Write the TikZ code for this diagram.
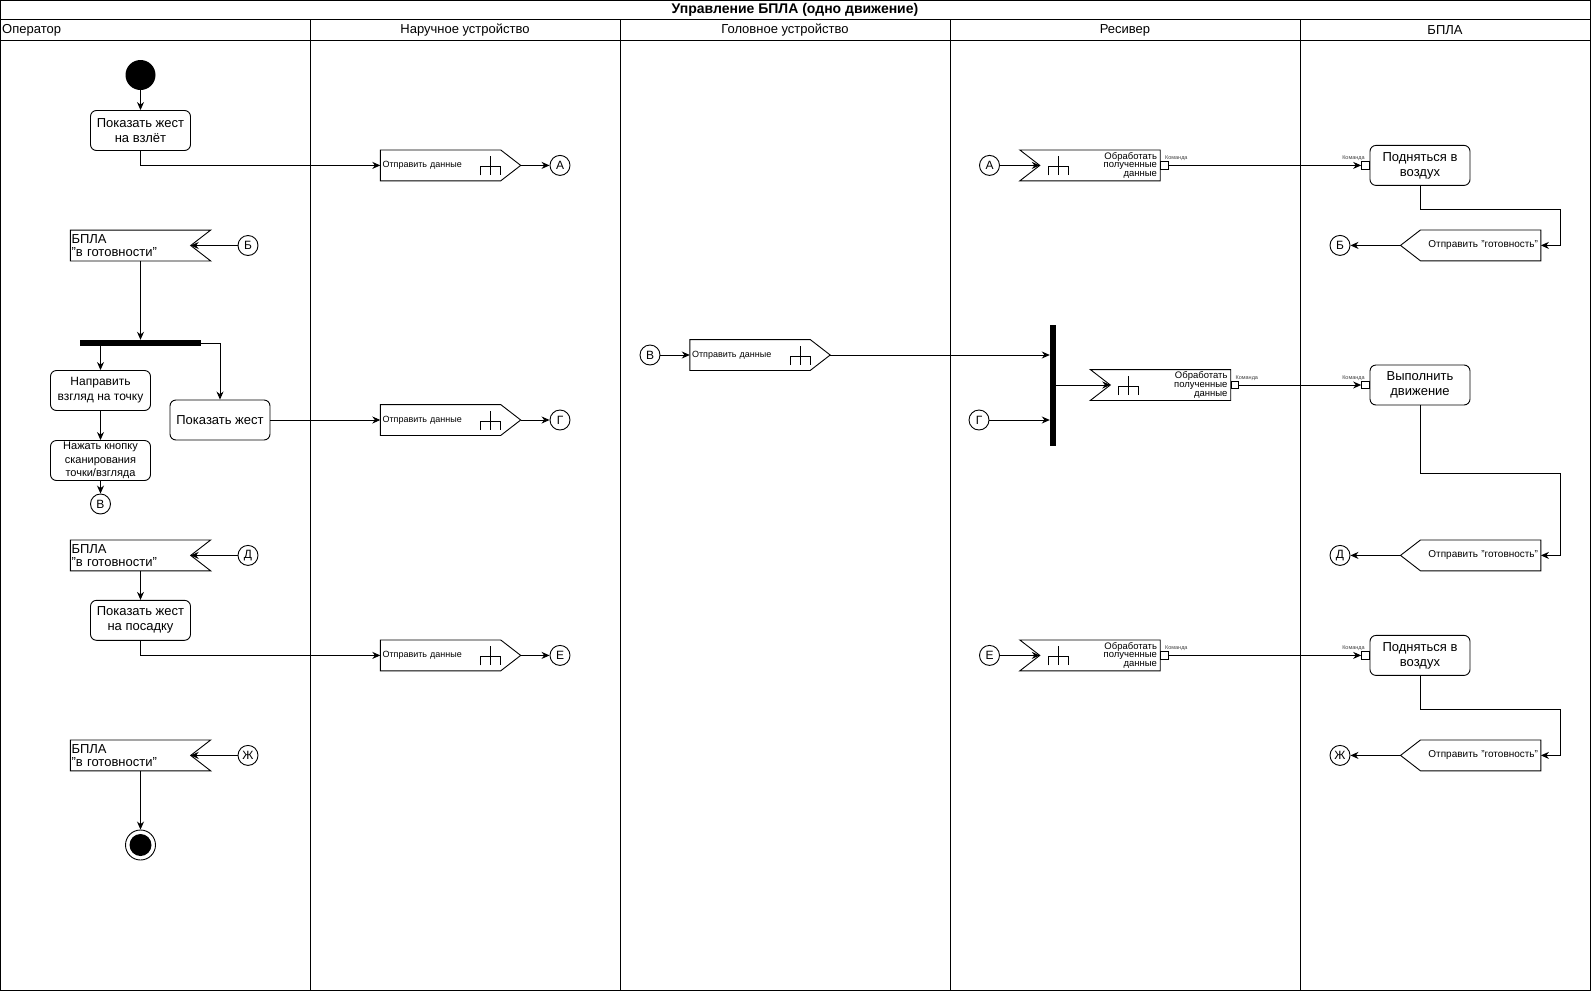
\documentclass[tikz,border=0pt]{standalone}
\usepackage{fontspec}
\setmainfont{Liberation Sans}
\usetikzlibrary{arrows.meta,calc}

\newcommand\SendRight[1]{%
  \draw[ln] (#1.north west) -- ([xshift=-20pt]#1.north east) -- (#1.east) -- ([xshift=-20pt]#1.south east) -- (#1.south west) -- cycle;}
\newcommand\SendLeft[1]{%
  \draw[ln] (#1.north east) -- ([xshift=20pt]#1.north west) -- (#1.west) -- ([xshift=20pt]#1.south west) -- (#1.south east) -- cycle;}
\newcommand\RecvLeft[1]{%
  \draw[ln] (#1.north west) -- (#1.north east) -- (#1.south east) -- (#1.south west) -- ([xshift=20pt]#1.west) -- cycle;
  \coordinate (#1-n) at ([xshift=20pt]#1.west);}
\newcommand\RecvRight[1]{%
  \draw[ln] (#1.north west) -- (#1.north east) -- ([xshift=-20pt]#1.east) -- (#1.south east) -- (#1.south west) -- cycle;
  \coordinate (#1-n) at ([xshift=-20pt]#1.east);}
\newcommand\RakeAt[2]{%
  \draw[ln] ([shift={(#2-10,10)}]#1.center) -- ([shift={(#2-10,1.5)}]#1.center) -- ([shift={(#2+10,1.5)}]#1.center) -- ([shift={(#2+10,10)}]#1.center)
    ([shift={(#2,-9)}]#1.center) -- ([shift={(#2,10)}]#1.center);}

\begin{document}
\begin{tikzpicture}[x=1pt,y=-1pt,
  ln/.style={line width=0.9pt},
  arr/.style={ln,-{Stealth[length=8pt,width=7pt]}},
  act/.style={draw,ln,rectangle,rounded corners=6pt,minimum width=100pt,minimum height=40pt,align=center,inner sep=1pt,font=\fontsize{13}{15}\selectfont},
  sigbox/.style={rectangle,minimum width=140pt,minimum height=30.5pt,inner ysep=0pt},
  sendtxt/.style={sigbox,inner xsep=2pt,text width=136pt,align=left,font=\fontsize{9}{10}\selectfont},
  backtxt/.style={sigbox,inner xsep=2.7pt,text width=134.6pt,align=right,font=\fontsize{10}{11}\selectfont},
  rtxt/.style={sigbox,inner xsep=3pt,text width=134pt,align=right,font=\fontsize{9.5}{8.7}\selectfont},
  optxt/.style={sigbox,inner xsep=1pt,text width=138pt,align=left,font=\fontsize{13}{13}\selectfont},
  conn/.style={draw,ln,circle,minimum size=20pt,inner sep=0pt,font=\fontsize{12}{12}\selectfont},
  startc/.style={circle,fill=black,minimum size=30pt,inner sep=0pt},
  endc/.style={circle,draw,ln,minimum size=30pt,inner sep=0pt,path picture={\fill[black] (path picture bounding box.center) circle[radius=11pt];}},
  hbar/.style={rectangle,fill=black,minimum width=121pt,minimum height=6pt,inner sep=0pt},
  vbar/.style={rectangle,fill=black,minimum width=6pt,minimum height=121pt,inner sep=0pt},
  pinbox/.style={draw,ln,rectangle,fill=white,minimum size=7.5pt,inner sep=0pt},
  cmd/.style={font=\fontsize{5.5}{6}\selectfont,inner sep=0.5pt,text=black!75},
  hdr/.style={font=\fontsize{13}{14}\selectfont,inner sep=0pt},
  ttl/.style={font=\fontsize{14}{15}\selectfont\bfseries,inner sep=0pt}
]
\useasboundingbox (0,0) rectangle (1591,991);

% lanes
\draw[ln] (0.5,0.5) rectangle (1590.5,990.5);
\draw[ln] (0.5,19.5) -- (1590.5,19.5);
\draw[ln] (0.5,40.5) -- (1590.5,40.5);
\foreach \x in {310.5,620,950,1300} \draw[ln] (\x,19.5) -- (\x,990.5);
\node[ttl] (title) at (795,10) {Управление БПЛА (одно движение)};
\node[hdr,anchor=west] (h1) at (2,30.5) {Оператор};
\node[hdr] (h2) at (465,30.5) {Наручное устройство};
\node[hdr] (h3) at (785,30.5) {Головное устройство};
\node[hdr] (h4) at (1125,30.5) {Ресивер};
\node[hdr] (h5) at (1445,30.5) {БПЛА};

% operator
\node[startc] (st) at (140.5,75) {};
\node[act] (b1) at (140.5,130.5) {Показать жест\\на взлёт};
\node[optxt] (r1) at (140.5,245.5) {БПЛА\\"в готовности"};
\RecvRight{r1}
\node[conn] (cb1) at (248,245.5) {Б};
\node[hbar] (f1) at (140.5,343) {};
\node[act,font=\fontsize{12}{15}\selectfont] (b2) at (100.5,390.5) {Направить\\взгляд на точку};
\node[act] (b3) at (220,420) {Показать жест};
\node[act,font=\fontsize{11}{13.5}\selectfont] (b4) at (100.5,460.5) {Нажать кнопку\\сканирования\\точки/взгляда};
\node[conn] (cv1) at (100.5,504) {В};
\node[optxt] (r2) at (140.5,555.4) {БПЛА\\"в готовности"};
\RecvRight{r2}
\node[conn] (cd1) at (248,555.4) {Д};
\node[act] (b5) at (140.5,620.3) {Показать жест\\на посадку};
\node[optxt] (r3) at (140.5,755.4) {БПЛА\\"в готовности"};
\RecvRight{r3}
\node[conn] (cz1) at (248,755.4) {Ж};
\node[endc] (en) at (140.5,845) {};

% wrist device
\node[sendtxt] (s1) at (450.5,165.4) {Отправить данные};
\SendRight{s1}\RakeAt{s1}{40}
\node[conn] (ca1) at (560,165.4) {А};
\node[sendtxt] (s2) at (450.5,420) {Отправить данные};
\SendRight{s2}\RakeAt{s2}{40}
\node[conn] (cg1) at (560,420) {Г};
\node[sendtxt] (s3) at (450.5,655.4) {Отправить данные};
\SendRight{s3}\RakeAt{s3}{40}
\node[conn] (ce1) at (560,655.4) {Е};

% head device
\node[conn] (cv2) at (650,355) {В};
\node[sendtxt] (s4) at (760,355) {Отправить данные};
\SendRight{s4}\RakeAt{s4}{40}

% receiver
\node[conn] (ca2) at (989.5,165.4) {А};
\node[rtxt] (r4) at (1090,165.4) {Обработать\\полученные\\данные};
\RecvLeft{r4}\RakeAt{r4}{-32}
\node[pinbox,anchor=west,label={[cmd,anchor=south west]north:Команда}] (p4) at (r4.east) {};
\node[vbar] (f2) at (1053,385.5) {};
\node[conn] (cg2) at (979,420) {Г};
\node[rtxt] (r5) at (1160.5,385) {Обработать\\полученные\\данные};
\RecvLeft{r5}\RakeAt{r5}{-32}
\node[pinbox,anchor=west,label={[cmd,anchor=south west]north:Команда}] (p5) at (r5.east) {};
\node[conn] (ce2) at (989.5,655.4) {Е};
\node[rtxt] (r6) at (1090,655.4) {Обработать\\полученные\\данные};
\RecvLeft{r6}\RakeAt{r6}{-32}
\node[pinbox,anchor=west,label={[cmd,anchor=south west]north:Команда}] (p6) at (r6.east) {};

% UAV
\node[act] (u1) at (1420,165.4) {Подняться в\\воздух};
\node[pinbox,anchor=east,label={[cmd,anchor=south east]north:Команда}] (q1) at (u1.west) {};
\node[backtxt] (s5) at (1470.7,245.4) {Отправить "готовность"};
\SendLeft{s5}
\node[conn] (cb2) at (1340,245.4) {Б};
\node[act] (u2) at (1420,385) {Выполнить\\движение};
\node[pinbox,anchor=east,label={[cmd,anchor=south east]north:Команда}] (q2) at (u2.west) {};
\node[backtxt] (s6) at (1470.7,555.4) {Отправить "готовность"};
\SendLeft{s6}
\node[conn] (cd2) at (1340,555.4) {Д};
\node[act] (u3) at (1420,655.4) {Подняться в\\воздух};
\node[pinbox,anchor=east,label={[cmd,anchor=south east]north:Команда}] (q3) at (u3.west) {};
\node[backtxt] (s7) at (1470.7,755.4) {Отправить "готовность"};
\SendLeft{s7}
\node[conn] (cz2) at (1340,755.4) {Ж};

% connectors: operator
\draw[arr] (st) -- (b1);
\draw[arr] (b1.south) |- (s1.west);
\draw[arr] (s1.east) -- (ca1);
\draw[arr] (cb1) -- (r1-n);
\draw[arr] (r1.south) -- (f1.north);
\draw[arr] (f1.south -| b2.north) -- (b2.north);
\draw[arr] (f1.east) -| (b3.north);
\draw[arr] (b2) -- (b4);
\draw[arr] (b4) -- (cv1);
\draw[arr] (b3) -- (s2.west);
\draw[arr] (s2.east) -- (cg1);
\draw[arr] (cd1) -- (r2-n);
\draw[arr] (r2.south) -- (b5.north);
\draw[arr] (b5.south) |- (s3.west);
\draw[arr] (s3.east) -- (ce1);
\draw[arr] (cz1) -- (r3-n);
\draw[arr] (r3.south) -- (en.north);
% head device
\draw[arr] (cv2) -- (s4.west);
\draw[arr] (s4.east) -- (s4.east -| f2.west);
\draw[arr] (cg2) -- (cg2 -| f2.west);
\draw[arr] (f2.east |- r5) -- (r5-n);
% receiver
\draw[arr] (ca2) -- (r4-n);
\draw[arr] (ce2) -- (r6-n);
\draw[arr] (p4) -- (q1);
\draw[arr] (p5) -- (q2);
\draw[arr] (p6) -- (q3);
% UAV
\draw[arr] (u1.south) -- ([yshift=-23.3pt]u1.south) -| ([xshift=20pt]s5.east) -- (s5.east);
\draw[arr] (s5.west) -- (cb2);
\draw[arr] (u2.south) -- ([yshift=-67.7pt]u2.south) -| ([xshift=20pt]s6.east) -- (s6.east);
\draw[arr] (s6.west) -- (cd2);
\draw[arr] (u3.south) -- ([yshift=-33.8pt]u3.south) -| ([xshift=20pt]s7.east) -- (s7.east);
\draw[arr] (s7.west) -- (cz2);
\end{tikzpicture}
\end{document}
